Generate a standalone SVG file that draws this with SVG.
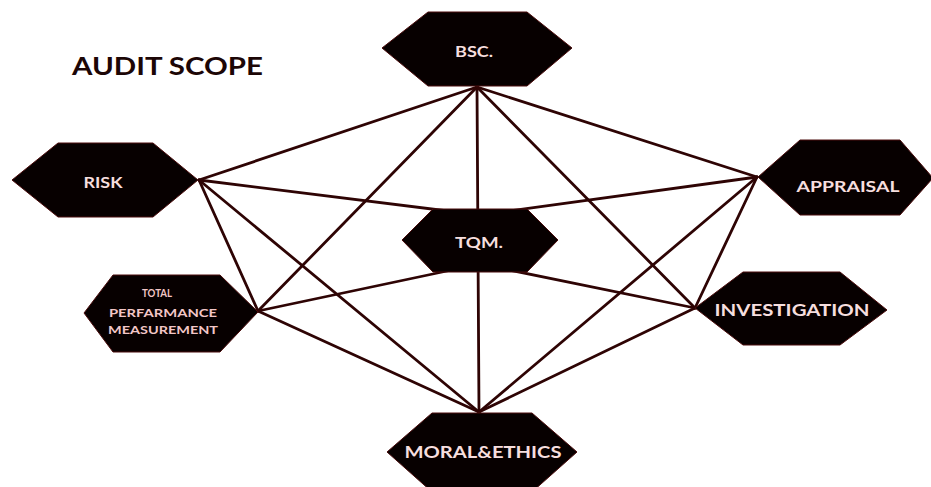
<svg xmlns="http://www.w3.org/2000/svg" width="931" height="487" viewBox="0 0 931 487">
<style>
.hex{fill:#070000;stroke:#4a0c0c;stroke-width:1}
.lbl{font-family:Lato,"Open Sans","Liberation Sans",sans-serif;font-weight:bold;fill:#f6dede;text-anchor:middle}
.conn line{stroke:#2e0404;stroke-width:2.8;stroke-linecap:round}
.title{font-family:Lato,"Open Sans","Liberation Sans",sans-serif;font-weight:bold;fill:#1c0606;font-size:25px}
</style>
<rect width="931" height="487" fill="#ffffff"/>
<text class="title" x="72" y="75" textLength="191" lengthAdjust="spacingAndGlyphs">AUDIT SCOPE</text>
<g id="connectors" class="conn">
<line x1="477" y1="87" x2="199" y2="180"/>
<line x1="477" y1="87" x2="757" y2="177"/>
<line x1="477" y1="87" x2="479" y2="412"/>
<line x1="477" y1="87" x2="258" y2="311"/>
<line x1="477" y1="87" x2="695" y2="308"/>
<line x1="199" y1="180" x2="480" y2="215"/>
<line x1="199" y1="180" x2="258" y2="311"/>
<line x1="199" y1="180" x2="479" y2="412"/>
<line x1="757" y1="177" x2="480" y2="215"/>
<line x1="757" y1="177" x2="695" y2="308"/>
<line x1="757" y1="177" x2="479" y2="412"/>
<line x1="258" y1="311" x2="480" y2="264"/>
<line x1="258" y1="311" x2="479" y2="412"/>
<line x1="695" y1="308" x2="480" y2="264"/>
<line x1="695" y1="308" x2="479" y2="412"/>
</g>
<g id="bsc">
<polygon class="hex" points="382,48 428,12 527,12 572,48 527,86 428,86"/>
<text class="lbl" x="474" y="57" font-size="15" textLength="38" lengthAdjust="spacingAndGlyphs">BSC.</text>
</g>
<g id="risk">
<polygon class="hex" points="12,180 58,143 153,143 198,180 153,217 58,217"/>
<text class="lbl" x="103" y="188" font-size="15" textLength="39" lengthAdjust="spacingAndGlyphs">RISK</text>
</g>
<g id="appraisal">
<polygon class="hex" points="758,177 800,140 900,140 933,178 900,215 800,215"/>
<text class="lbl" x="848" y="192" font-size="16" textLength="103" lengthAdjust="spacingAndGlyphs">APPRAISAL</text>
</g>
<g id="tqm">
<polygon class="hex" points="402,240 433,209 527,209 558,240 527,272 433,272"/>
<text class="lbl" x="479" y="248" font-size="15" textLength="48" lengthAdjust="spacingAndGlyphs">TQM.</text>
</g>
<g id="tpm">
<polygon class="hex" points="84,313 113,275 220,275 258,312 220,352 113,352"/>
<text class="lbl" x="157" y="297" font-size="11" textLength="30" lengthAdjust="spacingAndGlyphs" style="fill:#f2c6c6">TOTAL</text>
<text class="lbl" x="163" y="317" font-size="11" textLength="108" lengthAdjust="spacingAndGlyphs" style="fill:#f2c6c6">PERFARMANCE</text>
<text class="lbl" x="163" y="334" font-size="11" textLength="110" lengthAdjust="spacingAndGlyphs" style="fill:#f2c6c6">MEASUREMENT</text>
</g>
<g id="investigation">
<polygon class="hex" points="695,308 743,272 840,272 887,310 840,345 743,345"/>
<text class="lbl" x="792" y="316" font-size="17" textLength="155" lengthAdjust="spacingAndGlyphs">INVESTIGATION</text>
</g>
<g id="moral">
<polygon class="hex" points="387,452 432,413 532,413 577,452 532,492 432,492"/>
<text class="lbl" x="483" y="458" font-size="17" textLength="157" lengthAdjust="spacingAndGlyphs">MORAL&amp;ETHICS</text>
</g>
</svg>
